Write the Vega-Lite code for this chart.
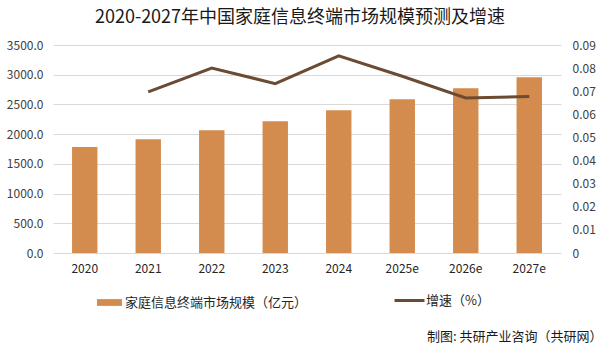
{
  "$schema": "https://vega.github.io/schema/vega-lite/v6.json",
  "width": 508,
  "height": 208,
  "autosize": {"type": "none"},
  "padding": {"left": 53, "top": 45, "right": 40, "bottom": 96},
  "background": "white",
  "config": {
    "font": "Noto Sans CJK SC",
    "view": {"stroke": null},
    "axis": {"labelFont": "Noto Sans CJK SC", "titleFont": "Noto Sans CJK SC"},
    "legend": {"labelFont": "Noto Sans CJK SC"}
  },
  "title": {
    "text": "2020-2027年中国家庭信息终端市场规模预测及增速",
    "fontSize": 18,
    "fontWeight": "normal",
    "color": "#1a1a1a",
    "anchor": "middle",
    "dx": -7,
    "offset": 12
  },
  "data": {
    "values": [
      {"year": "2020", "scale": 1785, "growth": null},
      {"year": "2021", "scale": 1914, "growth": 0.0697},
      {"year": "2022", "scale": 2066, "growth": 0.080},
      {"year": "2023", "scale": 2217, "growth": 0.0733},
      {"year": "2024", "scale": 2402, "growth": 0.0853},
      {"year": "2025e", "scale": 2587, "growth": 0.0765},
      {"year": "2026e", "scale": 2772, "growth": 0.0671},
      {"year": "2027e", "scale": 2958, "growth": 0.0677}
    ]
  },
  "encoding": {
    "x": {
      "field": "year",
      "type": "nominal",
      "sort": null,
      "scale": {"paddingInner": 0.6, "paddingOuter": 0.3},
      "axis": {
        "title": "制图: 共研产业咨询（共研网）",
        "titleFontSize": 13,
        "titleFontWeight": "normal",
        "titleColor": "#1a1a1a",
        "titleAnchor": "end",
        "titleAlign": "right",
        "titleBaseline": "middle",
        "titleX": 549,
        "titleY": 83,
        "labelAngle": 0,
        "labelFontSize": 12,
        "labelColor": "#262626",
        "labelPadding": 10,
        "ticks": false,
        "domain": false,
        "grid": false
      }
    }
  },
  "layer": [
    {
      "mark": {"type": "bar", "color": "#D38C4E"},
      "encoding": {
        "y": {
          "field": "scale",
          "type": "quantitative",
          "scale": {"domain": [0, 3500]},
          "axis": {
            "title": null,
            "values": [0, 500, 1000, 1500, 2000, 2500, 3000, 3500],
            "format": ".1f",
            "labelFontSize": 12,
            "labelColor": "#404040",
            "labelPadding": 10,
            "ticks": false,
            "domain": false,
            "grid": true,
            "gridColor": "#d9d9d9",
            "gridWidth": 1
          }
        },
        "fill": {
          "datum": "家庭信息终端市场规模（亿元）",
          "scale": {"range": ["#D38C4E"]},
          "legend": {
            "title": null,
            "orient": "none",
            "legendX": 44,
            "legendY": 245,
            "padding": 0,
            "symbolType": "M-1,-0.27H1V0.27H-1Z",
            "symbolSize": 625,
            "symbolStrokeWidth": 0,
            "labelFontSize": 13,
            "labelLimit": 400,
            "labelColor": "#262626",
            "labelOffset": 3
          }
        }
      }
    },
    {
      "mark": {"type": "line", "color": "#6B4B33", "strokeWidth": 3},
      "encoding": {
        "y": {
          "field": "growth",
          "type": "quantitative",
          "scale": {"domain": [0, 0.09]},
          "axis": {
            "title": null,
            "orient": "right",
            "values": [0, 0.01, 0.02, 0.03, 0.04, 0.05, 0.06, 0.07, 0.08, 0.09],
            "format": "~g",
            "labelFontSize": 12,
            "labelColor": "#404040",
            "labelPadding": 11,
            "ticks": false,
            "domain": false,
            "grid": false
          }
        },
        "stroke": {
          "datum": "增速（%）",
          "scale": {"range": ["#6B4B33"]},
          "legend": {
            "title": null,
            "orient": "none",
            "legendX": 340,
            "legendY": 239,
            "padding": 0,
            "symbolType": "stroke",
            "symbolSize": 900,
            "symbolStrokeWidth": 3,
            "labelFontSize": 13,
            "labelLimit": 200,
            "labelColor": "#262626",
            "labelOffset": 0
          }
        }
      }
    }
  ],
  "resolve": {"scale": {"y": "independent", "fill": "independent", "stroke": "independent"}}
}
